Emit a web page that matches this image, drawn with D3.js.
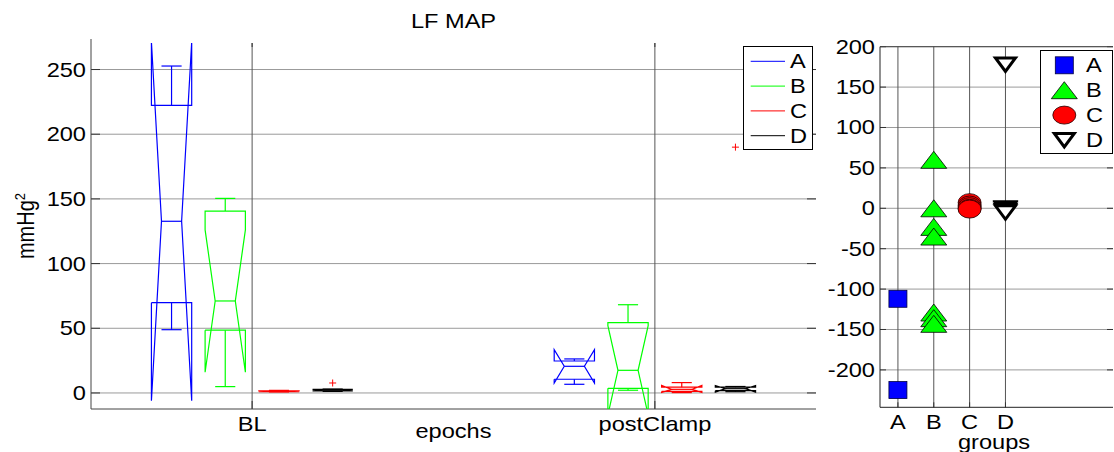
<!DOCTYPE html>
<html>
<head>
<meta charset="utf-8">
<script src="https://cdn.jsdelivr.net/npm/d3@7"></script>
<style>
  html, body { margin: 0; padding: 0; background: #fff; }
  svg text { font-family: "Liberation Sans", Arial, sans-serif; font-size: 20px; fill: #000; }
</style>
</head>
<body>
<div id="viz"></div>
<script>
// ---- data ----
var epochs = ["BL", "postClamp"];
var groups = ["A", "B", "C", "D"];
var groupColors = ["#0000ff", "#00ff00", "#ff0000", "#000000"];

// box statistics, [epoch][group]
var whiskerLow  = [[48.9, 4.9, 0.8, 1.2], [6.7, 2.1, 0.3, 1.0]];
var quart1      = [[69.8, 48.5, 1.0, 1.6], [10.6, 3.6, 1.2, 1.8]];
var medians     = [[132.7, 71.1, 1.3, 2.2], [20.6, 17.5, 2.8, 3.3]];
var quart3      = [[222.3, 140.6, 1.7, 2.8], [24.7, 54.3, 4.5, 4.5]];
var whiskerHigh = [[252.7, 150.4, 2.0, 3.0], [26.3, 68.2, 8.0, 5.0]];
var notchLow    = [[-6.0, 16.0, 1.0, 1.6], [7.7, -17.0, 0.4, 0.6]];
var notchHigh   = [[271.4, 126.0, 1.6, 2.8], [33.5, 52.0, 5.8, 5.8]];
var outliers    = [[[], [], [], [7.7]], [[], [], [], [190]]];

var leftTicks = [0, 50, 100, 150, 200, 250];

// scatter values per group
var scatterA = [-112, -225];
var scatterB = [60, 0, -23, -35, -129, -136, -143];
var scatterC = [7, 4, 2, 0, -1];
var scatterD = [178, 0, -1, -3, -5];
var rightTicks = [-200, -150, -100, -50, 0, 50, 100, 150, 200];

// ---- layout ----
var width = 1114, height = 452;
var L = {left: 91, right: 816, top: 43, bottom: 409};
var R = {left: 880, right: 1113, top: 46.7, bottom: 407.3};
var gridColor = "#9a9a9a", vGridColor = "#555";
var groupOffsets = [-0.2, -0.0667, 0.0667, 0.2];
var boxWidth = 0.1;

var svg = d3.select("#viz").append("svg")
  .attr("width", width).attr("height", height);

var label = function(g, x, y, s, anchor){
  return g.append("text")
    .attr("transform", "translate(" + x + "," + y + ") scale(1.18,1)")
    .attr("text-anchor", anchor || "middle")
    .text(s);
};

// ================= left: box plots =================
var drawBoxes = function(){
  var x = d3.scaleLinear().domain([0.6, 2.4]).range([L.left, L.right]);
  var y = d3.scaleLinear().domain([-12.4, 270.5]).range([L.bottom, L.top]);
  var g = svg.append("g");

  svg.append("clipPath").attr("id", "clipL").append("rect")
    .attr("x", L.left).attr("y", L.top)
    .attr("width", L.right - L.left).attr("height", L.bottom - L.top);

  // grid
  g.selectAll(".hgrid").data(leftTicks).enter().append("line")
    .attr("x1", L.left).attr("x2", L.right)
    .attr("y1", function(d){ return y(d); }).attr("y2", function(d){ return y(d); })
    .style("stroke", gridColor).style("stroke-width", 1);
  g.selectAll(".vgrid").data(epochs).enter().append("line")
    .attr("x1", function(d,i){ return x(i+1); }).attr("x2", function(d,i){ return x(i+1); })
    .attr("y1", L.top).attr("y2", L.bottom)
    .style("stroke", vGridColor).style("stroke-width", 1);

  // ticks (inward, all four sides)
  leftTicks.forEach(function(t){
    g.append("line").attr("x1", L.left).attr("x2", L.left + 9)
      .attr("y1", y(t)).attr("y2", y(t)).style("stroke", "#333");
    g.append("line").attr("x1", L.right - 9).attr("x2", L.right)
      .attr("y1", y(t)).attr("y2", y(t)).style("stroke", "#333");
    label(g, L.left - 5, y(t) + 7, t, "end");
  });
  epochs.forEach(function(e, i){
    g.append("line").attr("x1", x(i+1)).attr("x2", x(i+1))
      .attr("y1", L.bottom - 8).attr("y2", L.bottom).style("stroke", "#333");
    g.append("line").attr("x1", x(i+1)).attr("x2", x(i+1))
      .attr("y1", L.top).attr("y2", L.top + 4).style("stroke", "#333");
    label(g, x(i+1), 431, e, "middle");
  });

  // axis lines
  g.append("line").attr("x1", L.left).attr("x2", L.left)
    .attr("y1", L.top - 4).attr("y2", L.bottom).style("stroke", "#444");
  g.append("line").attr("x1", L.left).attr("x2", L.right)
    .attr("y1", L.bottom).attr("y2", L.bottom).style("stroke", "#444");

  // boxes
  var boxes = g.append("g").attr("clip-path", "url(#clipL)");
  var line = d3.line();
  epochs.forEach(function(e, i){
    groups.forEach(function(gr, j){
      var c = x(i + 1 + groupOffsets[j]);
      var half = (x(boxWidth) - x(0)) / 2;
      var l = c - half, r = c + half, nl = c - half/2, nr = c + half/2;
      var col = groupColors[j];
      var q1 = y(quart1[i][j]), q3 = y(quart3[i][j]), md = y(medians[i][j]);
      var nlo = y(notchLow[i][j]), nhi = y(notchHigh[i][j]);
      var pts = [[l,q1],[l,nlo],[nl,md],[l,nhi],[l,q3],[r,q3],[r,nhi],[nr,md],[r,nlo],[r,q1],[l,q1]];
      boxes.append("path").attr("d", line(pts))
        .style("fill", "none").style("stroke", col).style("stroke-width", 1.2);
      // median
      boxes.append("line").attr("x1", nl).attr("x2", nr).attr("y1", md).attr("y2", md)
        .style("stroke", col).style("stroke-width", 1.2);
      // whiskers
      [[quart3[i][j], whiskerHigh[i][j]], [quart1[i][j], whiskerLow[i][j]]].forEach(function(w){
        boxes.append("line").attr("x1", c).attr("x2", c)
          .attr("y1", y(w[0])).attr("y2", y(w[1]))
          .style("stroke", col).style("stroke-width", 1.2);
        boxes.append("line").attr("x1", nl).attr("x2", nr)
          .attr("y1", y(w[1])).attr("y2", y(w[1]))
          .style("stroke", col).style("stroke-width", 1.2);
      });
      // outliers
      outliers[i][j].forEach(function(v){
        boxes.append("path")
          .attr("d", "M" + (c-3.5) + "," + y(v) + "H" + (c+3.5) + "M" + c + "," + (y(v)-3.5) + "V" + (y(v)+3.5))
          .style("stroke", "#ff0000").style("stroke-width", 1);
      });
    });
  });

  // legend
  var lg = g.append("g");
  lg.append("rect").attr("x", 743.5).attr("y", 46.5).attr("width", 69).attr("height", 103)
    .style("fill", "#fff").style("stroke", "#000").style("stroke-width", 1);
  var ly = d3.scalePoint().domain(groups).range([61.3, 135.7]);
  groups.forEach(function(gr, j){
    lg.append("line").attr("x1", 750.7).attr("x2", 785)
      .attr("y1", ly(gr)).attr("y2", ly(gr))
      .style("stroke", groupColors[j]).style("stroke-width", 1);
    label(lg, 790, ly(gr) + 7, gr, "start");
  });

  // titles
  label(g, (L.left + L.right) / 2, 28, "LF MAP", "middle");
  label(g, (L.left + L.right) / 2, 438, "epochs", "middle");
  var yl = g.append("text")
    .attr("transform", "translate(34," + ((L.top + L.bottom) / 2) + ") rotate(-90) scale(1,1.15)")
    .attr("text-anchor", "middle");
  yl.append("tspan").text("mmHg");
  yl.append("tspan").attr("dy", -8).style("font-size", "13px").text("2");
};

// ================= right: scatter =================
var drawScatter = function(){
  var x = d3.scaleLinear().domain([0.5, 7]).range([R.left, R.right]);
  var y = d3.scaleLinear().domain([-246.3, 200]).range([R.bottom, R.top]);
  var g = svg.append("g");

  g.selectAll(".hgrid").data(rightTicks).enter().append("line")
    .attr("x1", R.left).attr("x2", R.right)
    .attr("y1", function(d){ return y(d); }).attr("y2", function(d){ return y(d); })
    .style("stroke", gridColor);
  g.selectAll(".vgrid").data(groups).enter().append("line")
    .attr("x1", function(d,i){ return x(i+1); }).attr("x2", function(d,i){ return x(i+1); })
    .attr("y1", R.top).attr("y2", R.bottom)
    .style("stroke", vGridColor);

  rightTicks.forEach(function(t){
    g.append("line").attr("x1", R.left).attr("x2", R.left + 6)
      .attr("y1", y(t)).attr("y2", y(t)).style("stroke", "#333");
    g.append("line").attr("x1", R.right - 6).attr("x2", R.right)
      .attr("y1", y(t)).attr("y2", y(t)).style("stroke", "#333");
    label(g, R.left - 5, y(t) + 7, t, "end");
  });
  groups.forEach(function(gr, i){
    g.append("line").attr("x1", x(i+1)).attr("x2", x(i+1))
      .attr("y1", R.bottom - 5).attr("y2", R.bottom).style("stroke", "#333");
    label(g, x(i+1), 429, gr, "middle");
  });
  g.append("line").attr("x1", R.left).attr("x2", R.left)
    .attr("y1", R.top).attr("y2", R.bottom).style("stroke", "#222");
  g.append("line").attr("x1", R.left).attr("x2", R.right)
    .attr("y1", R.bottom).attr("y2", R.bottom).style("stroke", "#222");
  g.append("line").attr("x1", R.left).attr("x2", R.right)
    .attr("y1", R.top).attr("y2", R.top).style("stroke", "#444");
  label(g, 994, 449, "groups", "middle");

  var marker = function(sel, kind, cx, cy){
    if(kind === 0){
      sel.append("rect").attr("x", cx - 9).attr("y", cy - 8.5).attr("width", 18).attr("height", 17)
        .style("fill", "#0000ff").style("stroke", "#000040").style("stroke-width", 0.8);
    } else if(kind === 1){
      sel.append("path").attr("d", "M" + cx + "," + (cy - 8.5) + "L" + (cx + 13) + "," + (cy + 8.5) + "L" + (cx - 13) + "," + (cy + 8.5) + "Z")
        .style("fill", "#00ff00").style("stroke", "#000").style("stroke-width", 0.8);
    } else if(kind === 2){
      sel.append("ellipse").attr("cx", cx).attr("cy", cy).attr("rx", 11.5).attr("ry", 9)
        .style("fill", "#ff0000").style("stroke", "#200").style("stroke-width", 0.8);
    } else {
      sel.append("path").attr("d", "M" + (cx - 10) + "," + (cy - 6.5) + "L" + (cx + 10) + "," + (cy - 6.5) + "L" + cx + "," + (cy + 7) + "Z")
        .style("fill", "#fff").style("stroke", "#000").style("stroke-width", 3).style("stroke-linejoin", "miter");
    }
  };

  var series = [scatterA, scatterB, scatterC, scatterD];
  series.forEach(function(vals, j){
    vals.forEach(function(v){ marker(g, j, x(j+1), y(v)); });
  });

  // legend
  g.append("rect").attr("x", 1040.5).attr("y", 50.5).attr("width", 72).attr("height", 103)
    .style("fill", "#fff").style("stroke", "#000");
  var ly = d3.scalePoint().domain(groups).range([65.3, 140]);
  groups.forEach(function(gr, j){
    marker(g, j, 1064.3, ly(gr));
    label(g, 1086, ly(gr) + 7, gr, "start");
  });
};

drawBoxes();
drawScatter();
</script>
</body>
</html>
